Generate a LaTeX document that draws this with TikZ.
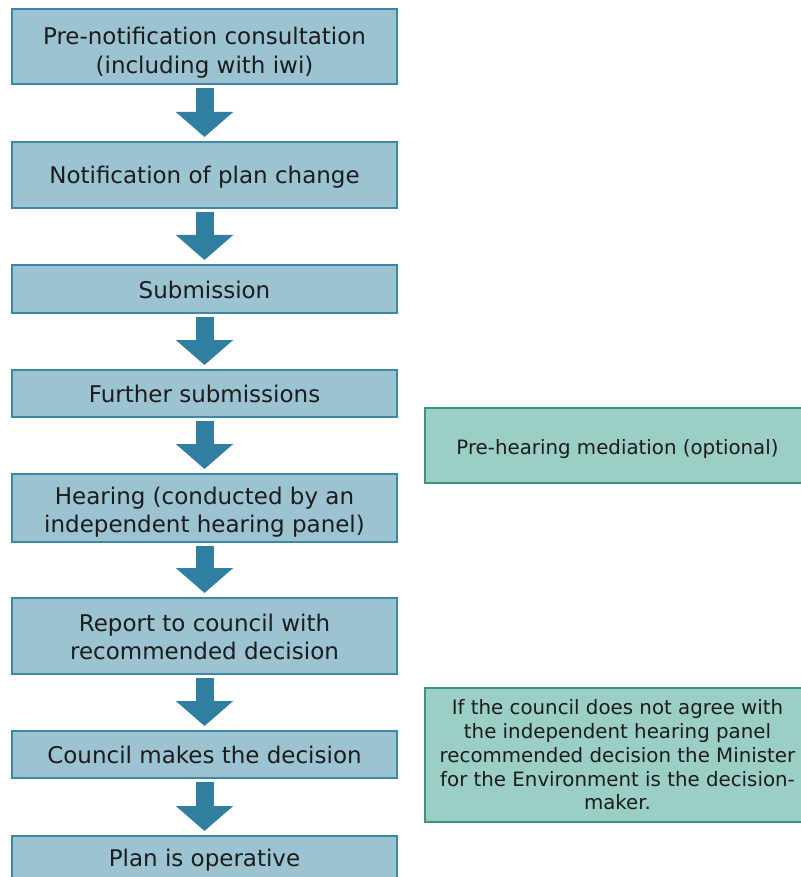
\documentclass[tikz,border=0pt]{standalone}
\usepackage{fontspec}
\setmainfont{DejaVu Sans}
\usetikzlibrary{arrows.meta}
\definecolor{lfill}{HTML}{9CC3D2}
\definecolor{ldraw}{HTML}{3C88A6}
\definecolor{rfill}{HTML}{9BCFC6}
\definecolor{rdraw}{HTML}{3B9480}
\definecolor{arr}{HTML}{307EA0}
\definecolor{txt}{HTML}{1C1C1C}
\newcommand{\lift}[1]{\rule{0pt}{#1}}
\tikzset{
  lbox/.style={draw=ldraw, fill=lfill, line width=2pt, minimum width=385pt, inner sep=0pt, align=center, text=txt, font=\fontsize{23}{28.3}\selectfont},
  rbox/.style={draw=rdraw, fill=rfill, line width=2pt, minimum width=385pt, inner sep=0pt, align=center, text=txt, font=\fontsize{19.8}{23.8}\selectfont},
  bigarrow/.style={draw=arr, line width=18pt, -{Triangle[width=56pt,length=25pt]}, color=arr}
}
\begin{document}
\begin{tikzpicture}[x=1pt,y=-1pt]
\useasboundingbox (0,0) rectangle (800,877);
\fill[white] (0,0) rectangle (800,877);
\node[lbox, minimum height=75pt] (b1) at (204.5,46.5) {\lift{29.5pt}Pre-notification consultation\\(including with iwi)};
\node[lbox, minimum height=66pt] (b2) at (204.5,175) {\lift{22pt}Notification of plan change};
\node[lbox, minimum height=48pt] (b3) at (204.5,289) {\lift{19pt}Submission};
\node[lbox, minimum height=47pt] (b4) at (204.5,393.5) {Further submissions};
\node[lbox, minimum height=68pt] (b5) at (204.5,508) {\lift{26.3pt}Hearing (conducted by an\\independent hearing panel)};
\node[lbox, minimum height=76pt] (b6) at (204.5,636) {\lift{19.5pt}Report to council with\\recommended decision};
\node[lbox, minimum height=47pt] (b7) at (204.5,754.5) {Council makes the decision};
\node[lbox, minimum height=48pt] (b8) at (204.5,860) {Plan is operative};
\node[rbox, minimum height=75pt] (r1) at (617.5,445.5) {\lift{22pt}Pre-hearing mediation (optional)};
\node[rbox, minimum height=134pt] (r2) at (617.5,755) {If the council does not agree with\\the independent hearing panel\\recommended decision the Minister\\for the Environment is the decision-\\maker.};
\foreach \a/\b in {b1/b2,b2/b3,b3/b4,b4/b5,b5/b6,b6/b7,b7/b8}{
  \draw[bigarrow] ([yshift=-3pt]\a.south) -- ([yshift=4pt]\b.north);
}
\end{tikzpicture}
\end{document}
